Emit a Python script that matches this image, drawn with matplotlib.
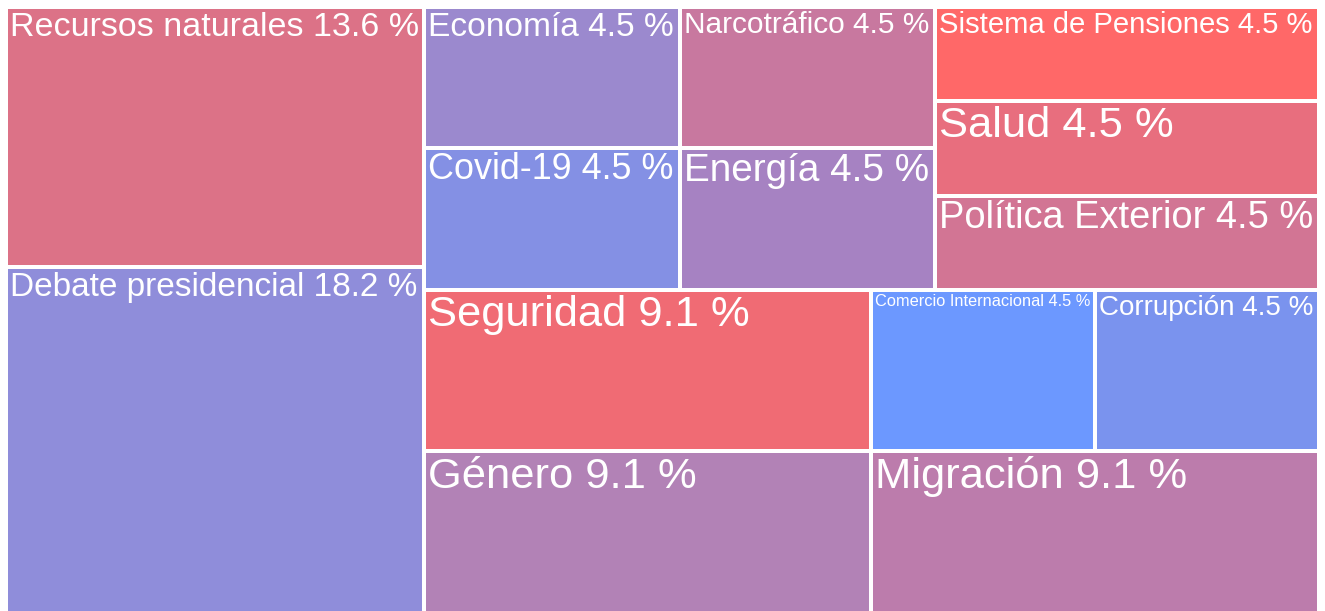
import matplotlib
matplotlib.use("Agg")
import matplotlib.pyplot as plt
from matplotlib.patches import Rectangle

# ---------------- data ----------------
categories = [
    "Recursos naturales", "Debate presidencial",
    "Economía", "Narcotráfico", "Covid-19", "Energía",
    "Sistema de Pensiones", "Salud", "Política Exterior",
    "Seguridad", "Comercio Internacional", "Corrupción",
    "Género", "Migración",
]
# mentions per topic (shares shown: 13.6 %, 18.2 %, 4.5 %, 9.1 %)
counts = [3, 4, 1, 1, 1, 1, 1, 1, 1, 2, 1, 1, 2, 2]
colors = [
    "#DC7287", "#8F8DDA",
    "#9B89CE", "#C8789F", "#8490E4", "#A682C2",
    "#FF6868", "#E86E7E", "#D27594",
    "#F06B74", "#6C98FF", "#7A93EE",
    "#B282B6", "#BC7CAC",
]

# nesting of the treemap (h = side by side, v = stacked)
layout_tree = ("h", [
    ("v", ["Recursos naturales", "Debate presidencial"]),
    ("v", [
        ("h", [
            ("v", [("h", ["Economía", "Narcotráfico"]),
                   ("h", ["Covid-19", "Energía"])]),
            ("v", ["Sistema de Pensiones", "Salud", "Política Exterior"]),
        ]),
        ("v", [
            ("h", ["Seguridad", "Comercio Internacional", "Corrupción"]),
            ("h", ["Género", "Migración"]),
        ]),
    ]),
])

grand_total = sum(counts)
val = dict(zip(categories, counts))
pct = {c: 100.0 * n / grand_total for c, n in zip(categories, counts)}
col = dict(zip(categories, colors))


def total(node):
    if isinstance(node, str):
        return val[node]
    return sum(total(c) for c in node[1])


def layout(node, x, y, w, h, out):
    if isinstance(node, str):
        out[node] = (x, y, w, h)
        return
    d, children = node
    s = total(node)
    pos = 0.0
    for c in children:
        frac = total(c) / s
        if d == "h":
            layout(c, x + pos * w, y, w * frac, h, out)
        else:
            layout(c, x, y + pos * h, w, h * frac, out)
        pos += frac


# ---------------- figure ----------------
W_PX, H_PX = 1325, 611
fig = plt.figure(figsize=(W_PX / 100, H_PX / 100), dpi=100)
fig.patch.set_facecolor("white")
AW, AH = 1313, 606
ax = fig.add_axes([6 / W_PX, 1 - 613 / H_PX, AW / W_PX, AH / H_PX])
ax.set_xlim(0, AW)
ax.set_ylim(AH, 0)
ax.axis("off")

rects = {}
layout(layout_tree, 0, 0, AW, AH, rects)

g = 2.0
renderer = fig.canvas.get_renderer()
MAX_PX = 43.5
REF_PT = 20

for name in categories:
    x, y, w, h = rects[name]
    ax.add_patch(Rectangle((x + g, y + g), w - 2 * g, h - 2 * g,
                           facecolor=col[name], edgecolor="none"))
    label = f"{name} {pct[name]:.1f} %"
    t = ax.text(0, 0, label, fontsize=REF_PT, family="Liberation Sans",
                color="white")
    tw = t.get_window_extent(renderer).width
    t.remove()
    ref_px = REF_PT * 100 / 72
    size_px = min(MAX_PX, ref_px * (w - 2 * g - 6) / tw)
    size_pt = size_px * 72 / 100
    ax.text(x + g + 2, y + g + 3 + 0.716 * size_px, label,
            fontsize=size_pt, family="Liberation Sans", color="white",
            ha="left", va="baseline", clip_on=True)

fig.savefig("out.png", dpi=100, facecolor="white")
